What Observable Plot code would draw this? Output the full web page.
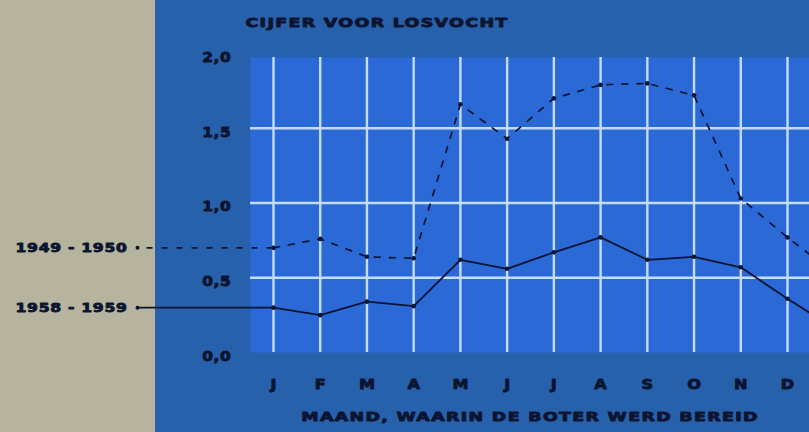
<!DOCTYPE html>
<html><head><meta charset="utf-8">
<script src="https://cdn.jsdelivr.net/npm/d3@7"></script>
<script src="https://cdn.jsdelivr.net/npm/@observablehq/plot@0.6"></script>
<style>
html,body{margin:0;padding:0;overflow:hidden;}
#chart{width:809px;height:432px;background:linear-gradient(to right,#b6b49e 0,#b6b49e 155px,#2761ab 155px,#2761ab 100%);}
#chart svg{display:block;background:transparent;overflow:hidden;}
#chart svg text{font-family:"DejaVu Sans",sans-serif !important;font-weight:700 !important;}
</style></head><body><div id="chart"></div>
<script>
// ---- data ----
const months = ["J","F","M","A","M","J","J","A","S","O","N","D"];
const monthIndex = [1,2,3,4,5,6,7,8,9,10,11,12];
const values1949 = [0.70,0.76,0.64,0.63,1.66,1.43,1.70,1.79,1.80,1.72,1.03,0.77];
const values1958 = [0.30,0.25,0.34,0.31,0.62,0.56,0.67,0.77,0.62,0.64,0.57,0.36];
// following January (line runs off the right edge)
const nextJan1949 = 0.53;
const nextJan1958 = 0.16;
const seriesNames = ["1949 - 1950","1958 - 1959"];
const yTicks = [0,0.5,1,1.5,2];
const yGrid = [0.5,1,1.5];
const title = "CIJFER VOOR LOSVOCHT";
const xTitle = "MAAND, WAARIN DE BOTER WERD BEREID";

// ---- layout / style ----
const ink = "#0b1531";
const gridColor = "#c6dcfb";
const legendStart = -1.91; // month units, where the legend leader lines begin

const rows1949 = monthIndex.map((m,i)=>({month:m,value:values1949[i]})).concat([{month:13,value:nextJan1949}]);
const rows1958 = monthIndex.map((m,i)=>({month:m,value:values1958[i]})).concat([{month:13,value:nextJan1958}]);
const dots = monthIndex.map((m,i)=>({month:m,value:values1949[i]})).concat(monthIndex.map((m,i)=>({month:m,value:values1958[i]})));
const leaders = [
  {name:seriesNames[0], start:legendStart, end:1, value:values1949[0], dashed:true},
  {name:seriesNames[1], start:legendStart, end:1, value:values1958[0], dashed:false}
];

const font = "DejaVu Sans";
const textOpts = {fontWeight:"bold", fontFamily:font, fill:ink, stroke:ink, strokeWidth:0.9};
const chart = Plot.plot({
  width:809, height:432,
  marginLeft:250, marginRight:0, marginTop:57, marginBottom:80,
  style:{background:"transparent", color:ink, fontFamily:font, fontWeight:"bold"},
  x:{domain:[1,12], range:[273,787], axis:null},
  y:{domain:[0,2], range:[352,53], axis:null},
  marks:[
    Plot.frame({fill:"#2b69d6", stroke:"none"}),
    Plot.ruleX(monthIndex, {x:d=>d, stroke:gridColor, strokeWidth:2.4}),
    Plot.ruleY(yGrid, {y:d=>d, stroke:gridColor, strokeWidth:2.4}),
    Plot.line(rows1949, {x:"month", y:"value", stroke:ink, strokeWidth:1.7, strokeDasharray:"6,9", clip:true}),
    Plot.line(rows1958, {x:"month", y:"value", stroke:ink, strokeWidth:1.8, clip:true}),
    Plot.dot(dots, {x:"month", y:"value", r:2.3, fill:ink}),
    Plot.link(leaders.filter(d=>d.dashed), {x1:"start", x2:"end", y1:"value", y2:"value", stroke:ink, strokeWidth:1.7, strokeDasharray:"6,9", strokeDashoffset:6}),
    Plot.link(leaders.filter(d=>!d.dashed), {x1:"start", x2:"end", y1:"value", y2:"value", stroke:ink, strokeWidth:1.8}),
    Plot.dot(leaders, {x:"start", y:"value", r:2, fill:ink}),
    Plot.text(leaders, {x:"start", y:"value", text:"name", textAnchor:"end", dx:-10, fontSize:13, ...textOpts}),
    Plot.text(yTicks, {y:d=>d, frameAnchor:"left", text:d=>d.toFixed(1).replace(".",","), textAnchor:"end", dx:-19, dy:4, fontSize:14, ...textOpts}),
    Plot.text(monthIndex, {x:d=>d, frameAnchor:"bottom", text:d=>months[d-1], dy:36, fontSize:14, ...textOpts}),
    Plot.text([title], {frameAnchor:"top-left", text:d=>d, textAnchor:"start", dx:-5, dy:-40, fontSize:13, ...textOpts}),
    Plot.text([xTitle], {frameAnchor:"bottom", text:d=>d, dy:68, fontSize:13, ...textOpts})
  ]
});
document.getElementById("chart").appendChild(chart);
// extended lettering: widen each label around its own anchor
d3.select(chart).selectAll("text").each(function(){
  const t = this.textContent;
  let ls = 0, sx = 1.15;
  if (t === title || t === xTitle) { ls = 1.0; sx = 1.34; }
  else if (seriesNames.includes(t)) { ls = 0.6; sx = 1.2; }
  else if (t.includes(",")) { ls = 0.6; sx = 1.1; }
  this.style.letterSpacing = ls + "px";
  const x = +(this.getAttribute("x") || 0);
  const tr = this.getAttribute("transform") || "";
  this.setAttribute("transform", `${tr} translate(${x},0) scale(${sx},1) translate(${-x},0)`);
});
</script>
</body></html>
